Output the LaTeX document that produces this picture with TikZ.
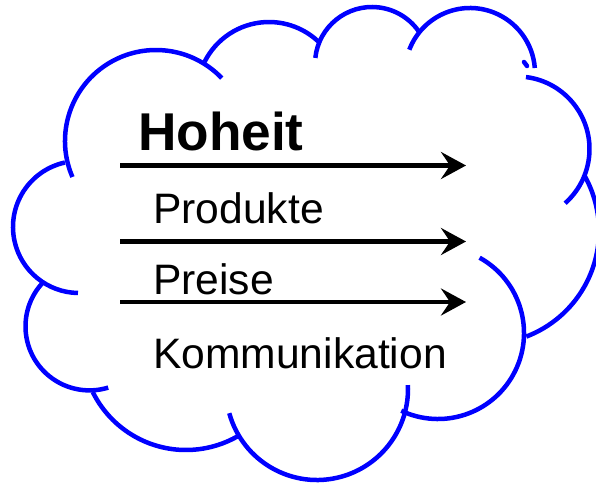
\documentclass[tikz,border=0pt]{standalone}
\usepackage{fontspec}
\setmainfont{Liberation Sans}
\usetikzlibrary{arrows.meta}
\begin{document}
\begin{tikzpicture}[x=1pt,y=-1pt,
  cloudarc/.style={draw=blue,line width=4.5pt},
  label/.style={anchor=base west,inner sep=0pt,font=\fontsize{42.6}{50}\selectfont},
  flow/.style={draw=black,line width=4.5pt,-{Stealth[length=25pt,width=27pt,inset=9pt]}}]
\useasboundingbox (0,0) rectangle (596,482);
\clip (0,0) rectangle (596,482);
% cloud outline made of circular arcs
\draw[cloudarc] (156,141) ++(156.7:91) arc[start angle=156.7,end angle=316.3,radius=91];
\draw[cloudarc] (269,94) ++(206.6:72) arc[start angle=206.6,end angle=315,radius=72];
\draw[cloudarc] (372,64) ++(186.1:57) arc[start angle=186.1,end angle=327.1,radius=57];
\draw[cloudarc] (470,73) ++(201:65) arc[start angle=201,end angle=355.6,radius=65];
\draw[cloudarc] (517,149) ++(-82.9:72.5) arc[start angle=-82.9,end angle=48.4,radius=72.5];
\draw[cloudarc] (486,231) ++(-30:113) arc[start angle=-30,end angle=69.1,radius=113];
\draw[cloudarc] (438,333) ++(-61.1:86) arc[start angle=-61.1,end angle=115.3,radius=86];
\draw[cloudarc] (317,389) ++(164.6:91) arc[start angle=164.6,end angle=-2.5,radius=91];
\draw[cloudarc] (186,346) ++(153.7:104) arc[start angle=153.7,end angle=58.8,radius=104];
\draw[cloudarc] (89.5,326.4) ++(223:64) arc[start angle=223,end angle=73,radius=64];
\draw[cloudarc] (79,227) ++(257.7:66) arc[start angle=257.7,end angle=90.9,radius=66];
\draw[cloudarc,line cap=round] (524,62) -- (527,66);
% texts
\node[label,font=\fontsize{53.2}{60}\selectfont\bfseries] (hoheit) at (138,150) {Hoheit};
\node[label] (produkte) at (153,223) {Produkte};
\node[label] (preise) at (153,294) {Preise};
\node[label] (komm) at (153,368) {Kommunikation};
% arrows
\coordinate (a1s) at (120,165.5);
\coordinate (a1e) at (466,165.5);
\coordinate (a2s) at (120,241.5);
\coordinate (a2e) at (466,241.5);
\coordinate (a3s) at (120,302);
\coordinate (a3e) at (466,302);
\draw[flow] (a1s) -- (a1e);
\draw[flow] (a2s) -- (a2e);
\draw[flow] (a3s) -- (a3e);
\end{tikzpicture}
\end{document}
